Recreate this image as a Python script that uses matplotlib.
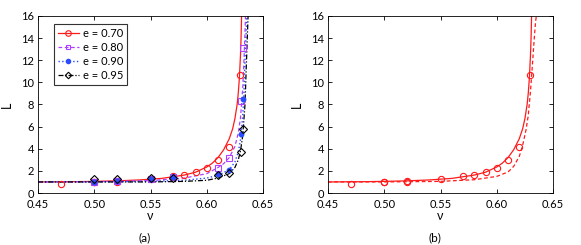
import matplotlib
matplotlib.use("Agg")
import matplotlib.pyplot as plt

plt.rcParams['font.family'] = ['Lato', 'DejaVu Sans']
plt.rcParams['font.size'] = 8

# ---- theory curves ----
nu_r = [0.45, 0.48, 0.50, 0.52, 0.54, 0.56, 0.58, 0.59, 0.60, 0.605, 0.61, 0.615,
        0.62, 0.623, 0.625, 0.627, 0.628, 0.629, 0.630, 0.6305, 0.631]
L_r = [1.00, 1.02, 1.05, 1.10, 1.18, 1.32, 1.62, 1.88, 2.35, 2.70, 3.20, 3.90,
       4.90, 5.80, 6.70, 8.00, 9.00, 10.4, 12.5, 14.0, 16.2]

nu_p = [0.45, 0.50, 0.55, 0.58, 0.60, 0.61, 0.615, 0.62, 0.625, 0.628, 0.630,
        0.632, 0.633, 0.634, 0.6345]
L_p = [1.00, 1.02, 1.12, 1.35, 1.75, 2.30, 2.65, 3.20, 4.2, 5.4, 6.8, 9.5,
       11.8, 14.5, 16.2]

nu_b = [0.45, 0.50, 0.55, 0.58, 0.60, 0.61, 0.62, 0.625, 0.628, 0.630, 0.632,
        0.633, 0.634, 0.6357]
L_b = [1.00, 1.00, 1.05, 1.15, 1.35, 1.60, 2.10, 2.80, 3.70, 4.80, 7.00,
       9.00, 12.0, 16.2]

nu_k = [0.45, 0.50, 0.55, 0.58, 0.60, 0.61, 0.62, 0.625, 0.628, 0.630, 0.632,
        0.634, 0.635, 0.6368]
L_k = [1.00, 1.00, 1.00, 1.05, 1.15, 1.35, 1.75, 2.30, 3.00, 3.80, 5.20,
       8.00, 11.0, 16.2]

nu_rd = [0.45, 0.50, 0.55, 0.58, 0.60, 0.61, 0.615, 0.62, 0.623, 0.626, 0.628,
         0.630, 0.632, 0.633, 0.6345, 0.6355]
L_rd = [1.0, 1.0, 1.05, 1.2, 1.5, 1.9, 2.4, 3.3, 4.3, 5.7, 7.0, 9.2, 12.0,
        13.5, 15.5, 16.2]

# ---- measured points ----
pts_nu_r = [0.47, 0.50, 0.50, 0.52, 0.52, 0.55, 0.57, 0.58, 0.59, 0.60, 0.61, 0.62, 0.6295]
pts_L_r = [0.85, 0.95, 1.02, 1.0, 1.05, 1.25, 1.5, 1.65, 1.92, 2.25, 2.95, 4.2, 10.7]

pts_nu_p = [0.50, 0.52, 0.55, 0.57, 0.61, 0.62, 0.6305, 0.6325]
pts_L_p = [1.0, 1.05, 1.25, 1.45, 2.3, 3.2, 8.3, 13.1]

pts_nu_b = [0.50, 0.52, 0.55, 0.57, 0.61, 0.62, 0.63, 0.632]
pts_L_b = [1.0, 1.1, 1.3, 1.45, 1.7, 2.1, 5.3, 8.5]

pts_nu_k = [0.50, 0.52, 0.55, 0.57, 0.61, 0.62, 0.63, 0.632]
pts_L_k = [1.25, 1.25, 1.35, 1.4, 1.6, 1.8, 3.7, 5.8]

labels = ['e = 0.70', 'e = 0.80', 'e = 0.90', 'e = 0.95']
c_red = '#ff1a1a'
c_pur = '#b040ff'
c_blu = '#2a4cff'
c_blk = '#000000'

fig = plt.figure(figsize=(5.81, 2.45), dpi=100)
ax1 = fig.add_axes([38/581, 52/245, 225/581, 177/245])
ax2 = fig.add_axes([328/581, 52/245, 225/581, 177/245])

ms = 4.5
# left panel
ax1.plot(nu_r, L_r, '-', color=c_red, lw=0.9)
ax1.plot(nu_p, L_p, '--', color=c_pur, lw=0.9, dashes=(3, 2))
ax1.plot(nu_b, L_b, ':', color=c_blu, lw=1.0)
ax1.plot(nu_k, L_k, '-.', color=c_blk, lw=0.9, dashes=(4, 1.5, 1, 1.5))
ax1.plot(pts_nu_r, pts_L_r, 'o', mfc='none', mec=c_red, ms=ms, mew=0.8)
ax1.plot(pts_nu_p, pts_L_p, 's', mfc='none', mec=c_pur, ms=ms-0.5, mew=0.8)
ax1.plot(pts_nu_b, pts_L_b, 'o', mfc=c_blu, mec=c_blu, ms=3.2)
ax1.plot(pts_nu_k, pts_L_k, 'D', mfc='none', mec=c_blk, ms=ms-0.7, mew=0.8)

# legend proxies
h1, = ax1.plot([], [], '-', color=c_red, lw=0.9, marker='o', mfc='none', mec=c_red, ms=ms-0.5, mew=0.8)
h2, = ax1.plot([], [], '--', color=c_pur, lw=0.9, marker='s', mfc='none', mec=c_pur, ms=ms-1, mew=0.8, dashes=(3, 2))
h3, = ax1.plot([], [], ':', color=c_blu, lw=1.0, marker='o', mfc=c_blu, mec=c_blu, ms=3.0)
h4, = ax1.plot([], [], '-.', color=c_blk, lw=0.9, marker='D', mfc='none', mec=c_blk, ms=ms-1.2, mew=0.8, dashes=(4, 1.5, 1, 1.5))
leg = ax1.legend([h1, h2, h3, h4], labels, loc='upper left',
                 bbox_to_anchor=(0.071, 0.955), fancybox=False, framealpha=1,
                 edgecolor='#333333', fontsize=8, handlelength=1.9,
                 borderpad=0.35, labelspacing=0.28, handletextpad=0.35,
                 borderaxespad=0)
leg.get_frame().set_linewidth(0.8)

# right panel
ax2.plot(nu_r, L_r, '-', color=c_red, lw=0.9)
ax2.plot(nu_rd, L_rd, '--', color=c_red, lw=0.9, dashes=(3, 2))
ax2.plot(pts_nu_r, pts_L_r, 'o', mfc='none', mec=c_red, ms=ms, mew=0.8)

for ax in (ax1, ax2):
    ax.set_xlim(0.45, 0.65)
    ax.set_ylim(0, 16)
    ax.set_xticks([0.45, 0.50, 0.55, 0.60, 0.65])
    ax.set_xticklabels(['0.45', '0.50', '0.55', '0.60', '0.65'])
    ax.set_yticks(range(0, 17, 2))
    ax.tick_params(direction='in', top=True, right=True, length=3, width=0.6,
                   labelsize=8)
    ax.tick_params(axis='x', pad=4)
    ax.tick_params(axis='y', pad=3)
    for s in ax.spines.values():
        s.set_linewidth(0.6)
    ax.set_xlabel('ν', fontsize=9, labelpad=0)
    ax.set_ylabel('L', fontsize=9, labelpad=6)

fig.text(145/581, 1 - 238/245, '(a)', ha='center', va='center', fontsize=8.5)
fig.text(435/581, 1 - 238/245, '(b)', ha='center', va='center', fontsize=8.5)

fig.savefig('out.png', dpi=100)
